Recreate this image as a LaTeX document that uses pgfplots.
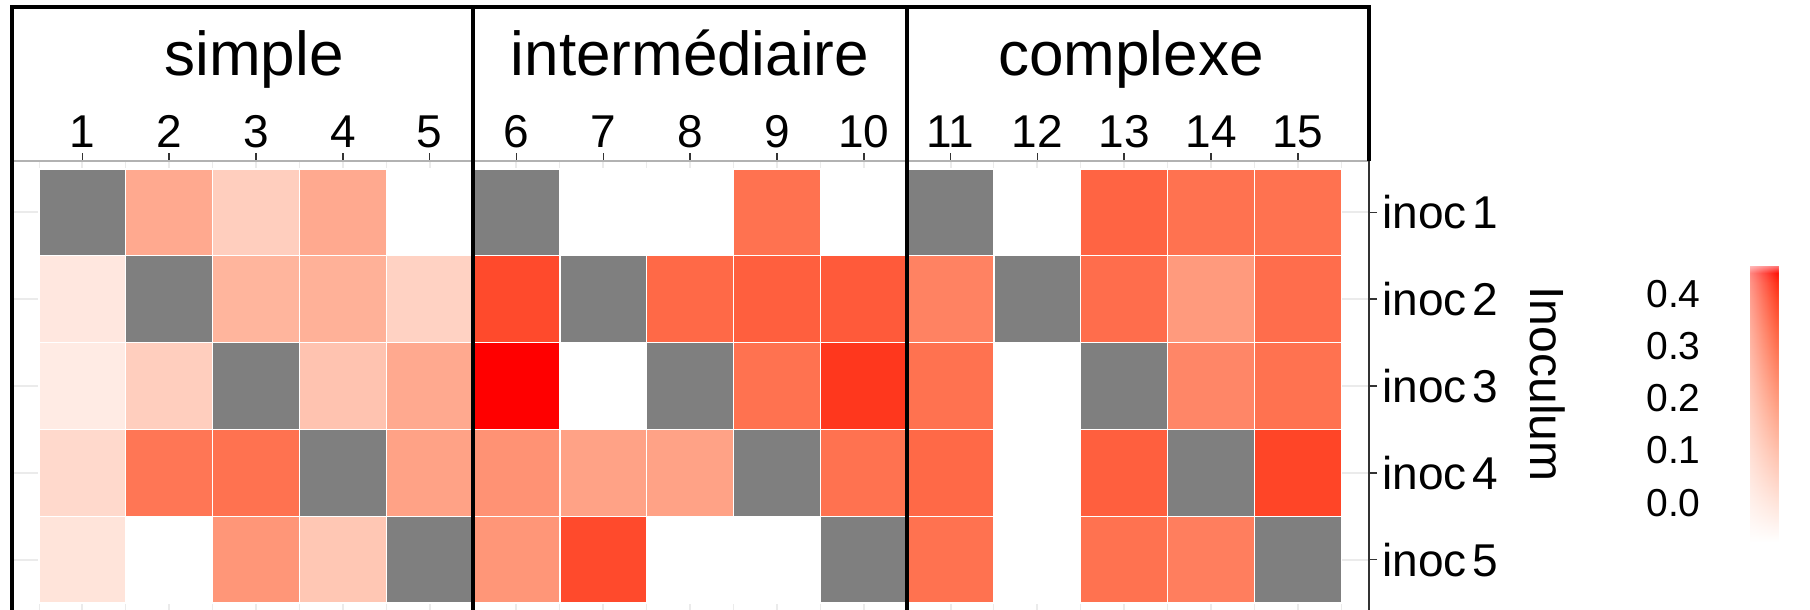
\documentclass[border=0pt]{standalone}
\usepackage{fontspec}
\setmainfont{Liberation Sans}
\usepackage{pgfplots}
\usepackage{pgfplotstable}
\pgfplotsset{compat=1.18}
\usetikzlibrary{fadings}

\tikzfading[name=fadeR, left color=transparent!0, right color=transparent!100]
\tikzfading[name=fadeL, left color=transparent!100, right color=transparent!0]
\tikzfading[name=fadeD, top color=transparent!0, bottom color=transparent!100]

\definecolor{nacol}{RGB}{127,127,127}
\definecolor{tickc}{RGB}{51,51,51}
\definecolor{gridc}{RGB}{235,235,235}

% measured values per substrate (x) and inoculum (y)
\pgfplotstableread{
x y v
2 1 0.16
3 1 0.06
4 1 0.16
5 1 -0.075
7 1 -0.075
8 1 -0.075
9 1 0.30
10 1 -0.075
12 1 -0.075
13 1 0.33
14 1 0.30
15 1 0.30
1 2 -0.01
3 2 0.13
4 2 0.14
5 2 0.05
6 2 0.38
8 2 0.32
9 2 0.34
10 2 0.35
11 2 0.26
13 2 0.31
14 2 0.20
15 2 0.31
1 3 -0.02
2 3 0.06
4 3 0.09
5 3 0.16
6 3 0.455
7 3 -0.075
9 3 0.30
10 3 0.41
11 3 0.30
12 3 -0.075
14 3 0.25
15 3 0.30
1 4 0.03
2 4 0.29
3 4 0.30
5 4 0.18
6 4 0.22
7 4 0.18
8 4 0.18
10 4 0.30
11 4 0.32
12 4 -0.075
13 4 0.34
15 4 0.39
1 5 0.00
2 5 -0.075
3 5 0.21
4 5 0.08
6 5 0.21
7 5 0.38
8 5 -0.075
9 5 -0.075
11 5 0.30
12 5 -0.075
13 5 0.30
14 5 0.27
}\cells

% combinations without a value (NA)
\pgfplotstableread{
x y
1 1
6 1
11 1
2 2
7 2
12 2
3 3
8 3
13 3
4 4
9 4
14 4
5 5
10 5
15 5
}\nacells

\begin{document}
\begin{tikzpicture}
\useasboundingbox (0,0) rectangle (905pt,-305pt);
\clip (0,0) rectangle (905pt,-305pt);
\begin{axis}[
  at={(6pt,-80.5pt)}, anchor=north west,
  scale only axis, width=678.5pt, height=224.5pt,
  xmin=0.189, xmax=15.82, ymin=0.408, ymax=5.58, y dir=reverse,
  axis line style={draw=none},
  colormap={whred}{rgb255(0cm)=(255,255,255) rgb255(1cm)=(255,231,222)
    rgb255(2cm)=(255,207,191) rgb255(3cm)=(255,183,160) rgb255(4cm)=(255,158,129)
    rgb255(5cm)=(255,132,100) rgb255(6cm)=(255,104,70) rgb255(7cm)=(255,70,40)
    rgb255(7.5cm)=(255,47,23) rgb255(8cm)=(255,0,0)},
  point meta min=-0.075, point meta max=0.455,
  colorbar,
  colorbar style={
    at={(parent axis.north east)}, anchor=north west,
    xshift=182pt, yshift=-52pt,
    scale only axis, width=28pt, height=138.5pt,
    ytick={0,0.1,0.2,0.3,0.4},
    ytick pos=left, yticklabel pos=left,
    major tick length=0pt,
    axis line style={draw=none},
    yticklabel style={font=\fontsize{19.5}{19.5}\selectfont, anchor=east,
      inner sep=0pt, xshift=-24.5pt,
      /pgf/number format/fixed, /pgf/number format/fixed zerofill,
      /pgf/number format/precision=1, /pgf/number format/assume math mode=true},
  },
  xtick={1,...,15}, xtick pos=right, xticklabel pos=right,
  ytick={1,...,5}, ytick pos=right, yticklabel pos=right,
  yticklabels={inoc\hspace{0.12em}1,inoc\hspace{0.12em}2,inoc\hspace{0.12em}3,inoc\hspace{0.12em}4,inoc\hspace{0.12em}5},
  minor xtick={0.5,1.5,...,15.5},
  xmajorgrids, ymajorgrids, xminorgrids,
  major grid style={gridc, line width=1pt},
  minor grid style={gridc, line width=0.5pt},
  tick align=outside, major tick length=4pt, minor tick length=0pt,
  tick style={tickc, line width=0.8pt},
  xticklabel style={font=\fontsize{23}{23}\selectfont, anchor=base, inner sep=0pt, yshift=3pt},
  yticklabel style={font=\fontsize{23}{23}\selectfont, anchor=west, inner sep=0pt, xshift=2.5pt},
  /pgf/number format/assume math mode=true,
]
\addplot[scatter, only marks, mark=square*, mark size=21.7pt,
  point meta=explicit,
  scatter/use mapped color={draw=white, fill=mapped color},
  mark options={line width=0.6pt}]
  table[x=x, y=y, meta=v] {\cells};
\addplot[only marks, mark=square*, mark size=21.7pt,
  mark options={draw=white, fill=nacol, line width=0.6pt}]
  table[x=x, y=y] {\nacells};
\end{axis}

\begin{scope}[x=0.5pt, y=-0.5pt]
  % panel borders
  \draw[gray!60, line width=0.7pt] (12,161) -- (1369,161);
  \draw[tickc, line width=0.9pt] (1369,161) -- (1369,615);
  % facet strips
  \draw[black, line width=1.8pt, line join=miter] (12,615) -- (12,7) -- (1369,7) -- (1369,161);
  \draw[black, line width=1.8pt] (473,7) -- (473,615);
  \draw[black, line width=1.8pt] (907,7) -- (907,615);
  \node[font=\fontsize{31}{31}\selectfont, anchor=base, inner sep=0pt] at (254,76) {simple};
  \node[font=\fontsize{31}{31}\selectfont, anchor=base, inner sep=0pt] at (690,76) {intermédiaire};
  \node[font=\fontsize{31}{31}\selectfont, anchor=base, inner sep=0pt] at (1131,76) {complexe};
  % axis title
  \node[font=\fontsize{24}{24}\selectfont, rotate=-90, anchor=base, inner sep=0pt] at (1530,384) {Inoculum};
  % soft edges of the colour bar
  \fill[white, fill opacity=0.55, path fading=fadeR] (1747,264) rectangle (1777,543);
  \fill[white, fill opacity=0.55, path fading=fadeL] (1777,264) rectangle (1805,543);
  \fill[white, fill opacity=0.6, path fading=fadeD] (1747,264) rectangle (1805,273);
\end{scope}
\end{tikzpicture}
\end{document}
